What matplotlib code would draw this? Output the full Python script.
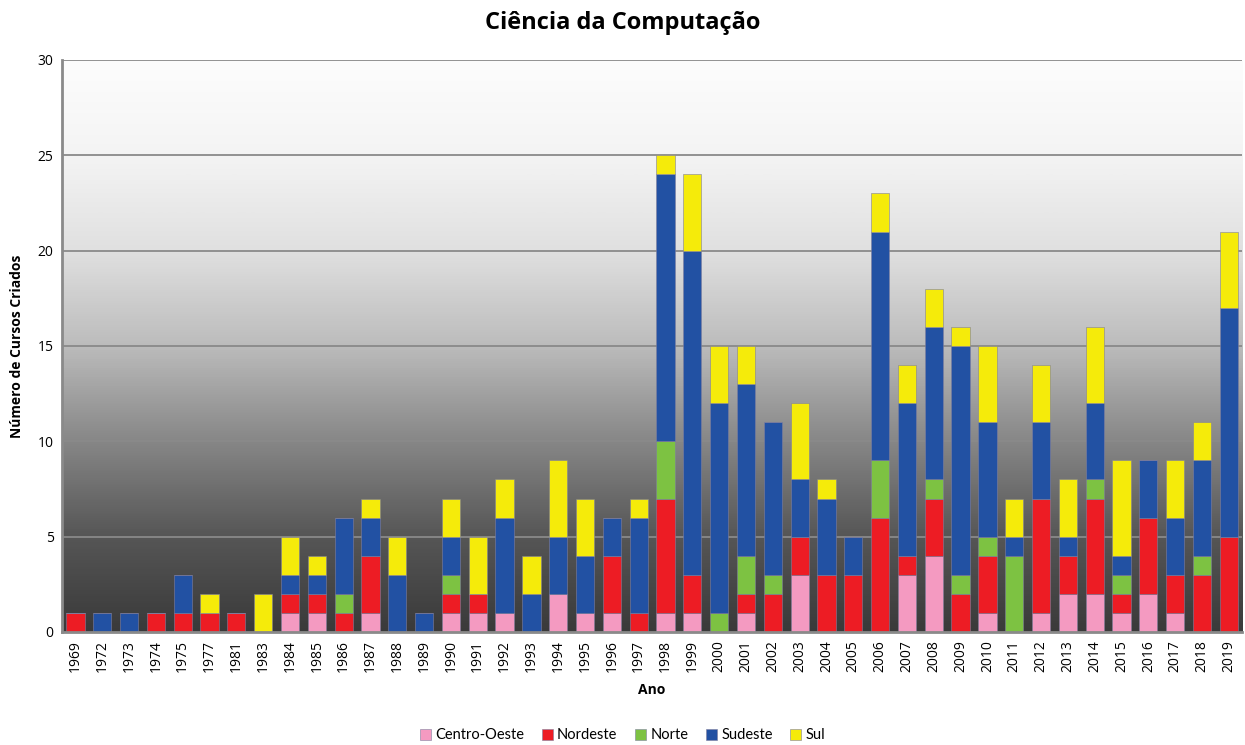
import numpy as np
import matplotlib
matplotlib.use("Agg")
import matplotlib.pyplot as plt
from matplotlib.colors import LinearSegmentedColormap

plt.rcParams['font.family'] = ['Open Sans', 'DejaVu Sans']

years = ['1969', '1972', '1973', '1974', '1975', '1977', '1981', '1983', '1984', '1985',
         '1986', '1987', '1988', '1989', '1990', '1991', '1992', '1993', '1994', '1995',
         '1996', '1997', '1998', '1999', '2000', '2001', '2002', '2003', '2004', '2005',
         '2006', '2007', '2008', '2009', '2010', '2011', '2012', '2013', '2014', '2015',
         '2016', '2017', '2018', '2019']

centro_oeste = [0, 0, 0, 0, 0, 0, 0, 0, 1, 1,
                0, 1, 0, 0, 1, 1, 1, 0, 2, 1,
                1, 0, 1, 1, 0, 1, 0, 3, 0, 0,
                0, 3, 4, 0, 1, 0, 1, 2, 2, 1,
                2, 1, 0, 0]
nordeste = [1, 0, 0, 1, 1, 1, 1, 0, 1, 1,
            1, 3, 0, 0, 1, 1, 0, 0, 0, 0,
            3, 1, 6, 2, 0, 1, 2, 2, 3, 3,
            6, 1, 3, 2, 3, 0, 6, 2, 5, 1,
            4, 2, 3, 5]
norte = [0, 0, 0, 0, 0, 0, 0, 0, 0, 0,
         1, 0, 0, 0, 1, 0, 0, 0, 0, 0,
         0, 0, 3, 0, 1, 2, 1, 0, 0, 0,
         3, 0, 1, 1, 1, 4, 0, 0, 1, 1,
         0, 0, 1, 0]
sudeste = [0, 1, 1, 0, 2, 0, 0, 0, 1, 1,
           4, 2, 3, 1, 2, 0, 5, 2, 3, 3,
           2, 5, 14, 17, 11, 9, 8, 3, 4, 2,
           12, 8, 8, 12, 6, 1, 4, 1, 4, 1,
           3, 3, 5, 12]
sul = [0, 0, 0, 0, 0, 1, 0, 2, 2, 1,
       0, 1, 2, 0, 2, 3, 2, 2, 4, 3,
       0, 1, 1, 4, 3, 2, 0, 4, 1, 0,
       2, 2, 2, 1, 4, 2, 3, 3, 4, 5,
       0, 3, 2, 4]

series = [('Centro-Oeste', centro_oeste, '#F49AC1'),
          ('Nordeste', nordeste, '#ED1C24'),
          ('Norte', norte, '#7DC242'),
          ('Sudeste', sudeste, '#2251A3'),
          ('Sul', sul, '#F5EB0A')]

fig = plt.figure(figsize=(12.45, 7.45), dpi=100)
ax = fig.add_axes([0.0498, 0.1517, 0.948, 0.7678])

x = np.arange(len(years))
ax.set_xlim(-0.5, len(years) - 0.5)
ax.set_ylim(0, 30)

# gradient background (dark at bottom, white at top)
grad = np.linspace(0, 1, 512).reshape(-1, 1)
cmap = LinearSegmentedColormap.from_list(
    'bg', [(0.0, '#3a3a3a'), (1/6, '#565656'), (1/3, '#878787'),
           (0.5, '#bcbcbc'), (2/3, '#e0e0e0'), (5/6, '#f4f4f4'), (1.0, '#fdfdfd')])
ax.imshow(grad, aspect='auto', cmap=cmap, origin='lower',
          extent=[-0.5, len(years) - 0.5, 0, 30], zorder=0)

for yv in range(5, 31, 5):
    ax.axhline(yv, color='#8a8a8a', lw=1.3, zorder=1)

bottom = np.zeros(len(years))
handles = []
for name, vals, col in series:
    vals = np.array(vals, dtype=float)
    b = ax.bar(x, vals, 0.68, bottom=bottom, color=col, edgecolor='#7f7f9f',
               linewidth=0.4, label=name, zorder=2)
    handles.append(b)
    bottom += vals

ax.set_xticks(x)
ax.set_xticklabels(years, rotation=90, fontsize=10)
ax.set_yticks(range(0, 31, 5))
ax.set_yticklabels([str(v) for v in range(0, 31, 5)], fontsize=10)
ax.tick_params(axis='both', length=0, pad=6)

for s in ['top', 'right']:
    ax.spines[s].set_visible(False)
for s in ['left', 'bottom']:
    ax.spines[s].set_color('#8a8a8a')
    ax.spines[s].set_linewidth(2)

ax.set_xlabel('Ano', fontsize=10, fontweight='bold', labelpad=8)
ax.set_ylabel('Número de Cursos Criados', fontsize=10, fontweight='bold', labelpad=10)
fig.suptitle('Ciência da Computação', fontsize=17, fontweight='bold', y=0.985)

fig.legend(handles=handles, labels=[s[0] for s in series], loc='lower center',
           ncol=5, frameon=False, prop={'family': ['Lato', 'DejaVu Sans'], 'size': 10.5},
           bbox_to_anchor=(0.5, -0.014),
           handlelength=0.75, handleheight=0.75, handletextpad=0.3, columnspacing=1.2)

fig.savefig('out.png', dpi=100, facecolor='white')
